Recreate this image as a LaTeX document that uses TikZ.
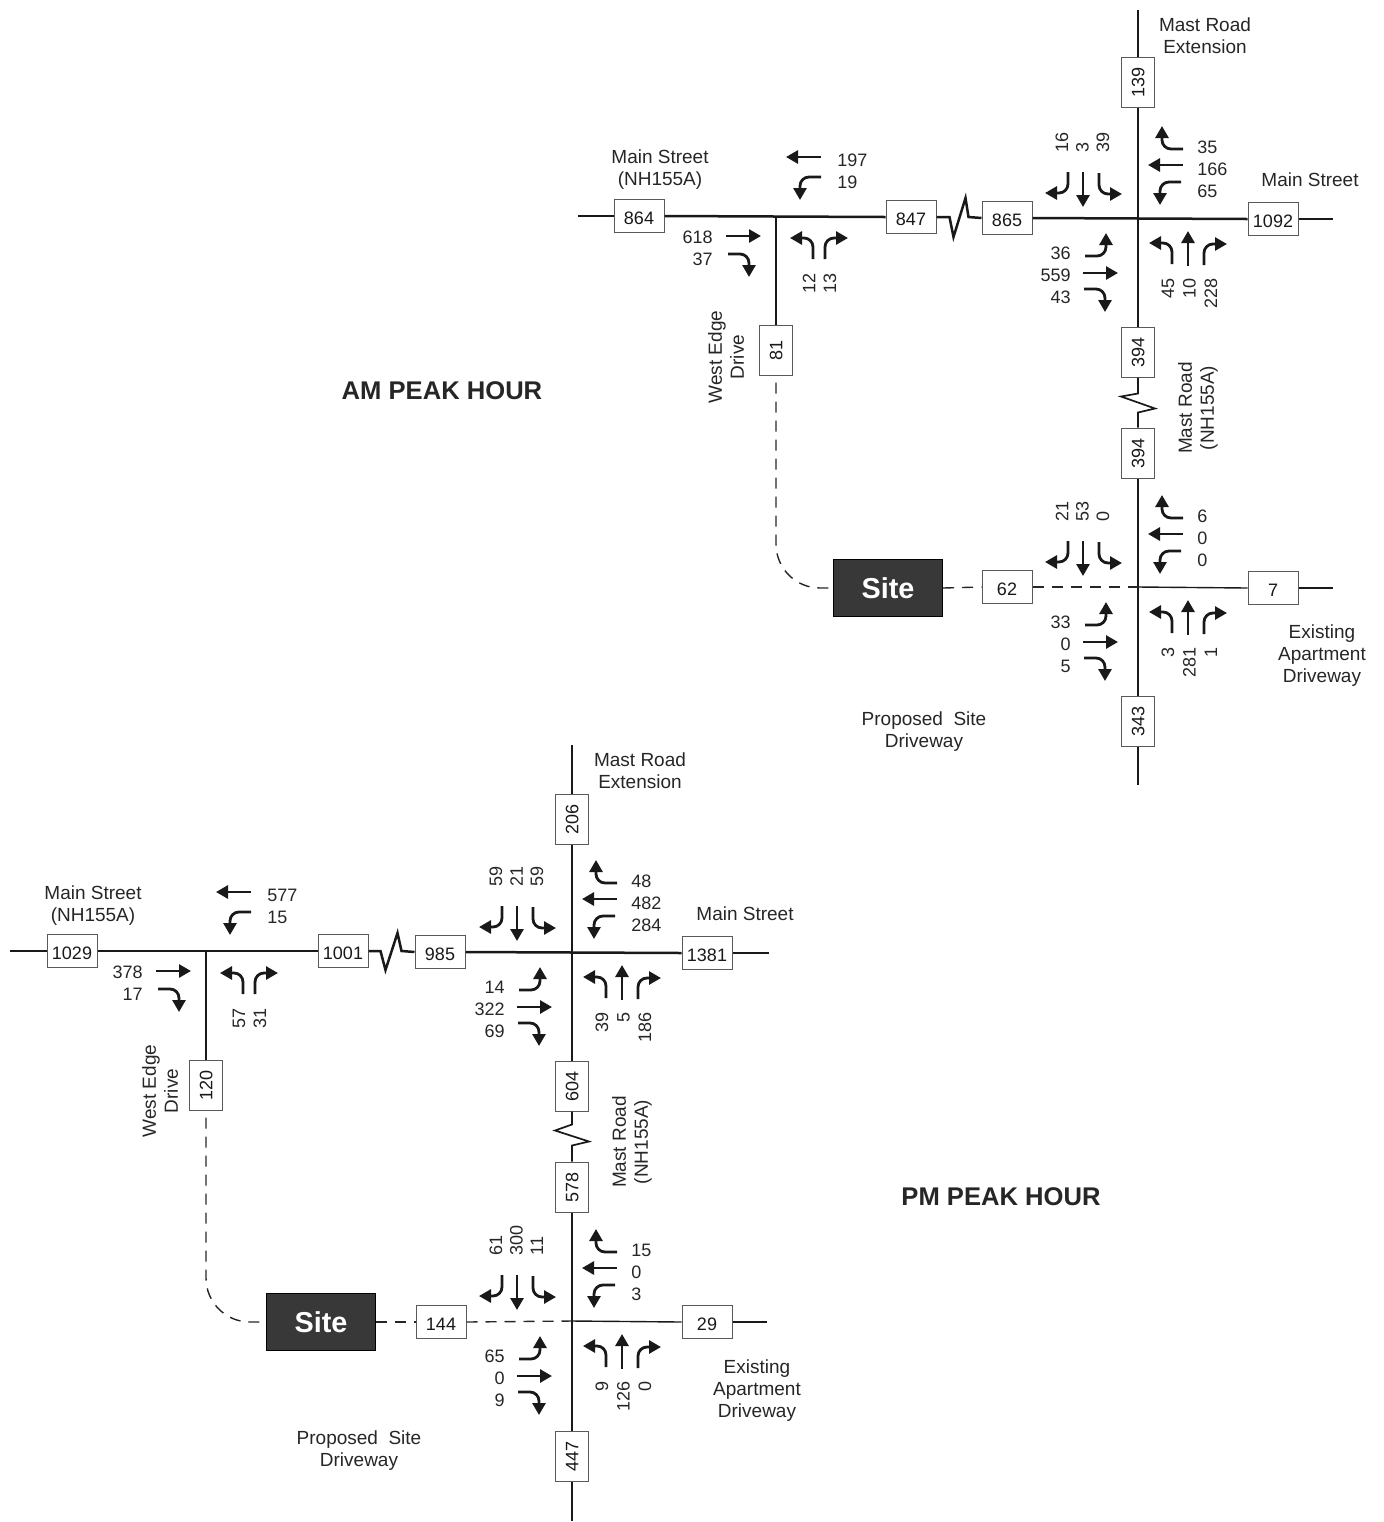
\documentclass[tikz,border=0pt]{standalone}
\usepackage{fontspec}
\setmainfont{Liberation Sans}
\usetikzlibrary{arrows.meta}

% turning counts round a four-leg junction: name, then the E, N, W, S approach
\newcommand{\crosscounts}[5]{%
\foreach \v [count=\k] in {#2} {\node[numtext,anchor=west] (#1e\k) at ([shift={(59,{22*\k-93})}]#1) {\v};}
\foreach \v [count=\k] in {#3} {\node[numtext,rotate=90,anchor=west] (#1n\k) at ([shift={({20.5*\k-96.5},-65)}]#1) {\v};}
\foreach \v [count=\k] in {#4} {\node[numtext,anchor=east] (#1w\k) at ([shift={(-67,{22*\k+13})}]#1) {\v};}
\foreach \v [count=\k] in {#5} {\node[numtext,rotate=90,anchor=east] (#1s\k) at ([shift={({21.5*\k+8.5},60)}]#1) {\v};}
}
% same for the T junction
\newcommand{\teecounts}[4]{%
\foreach \v [count=\k] in {#2} {\node[numtext,anchor=west] (#1e\k) at ([shift={(61,{22*\k-78})}]#1) {\v};}
\foreach \v [count=\k] in {#3} {\node[numtext,anchor=east] (#1w\k) at ([shift={(-63,{22*\k-1})}]#1) {\v};}
\foreach \v [count=\k] in {#4} {\node[numtext,rotate=90,anchor=east] (#1s\k) at ([shift={({21*\k+12},57)}]#1) {\v};}
}

\begin{document}
\begin{tikzpicture}[x=.5pt,y=-.5pt,
numtext/.style={font=\fontsize{9}{11}\selectfont,text=black!85,inner sep=0pt},
roadtext/.style={font=\fontsize{9.5}{11}\selectfont,text=black!85,align=center,inner sep=0pt},
peak/.style={font=\fontsize{12.8}{15}\selectfont\bfseries,text=black!85,inner sep=0pt},
vol/.style={draw=black!65,line width=.5pt,fill=white,minimum width=25pt,minimum height=16.5pt,inner sep=0pt,font=\fontsize{9}{11}\selectfont,text=black!90,text height=8.4pt,text depth=0pt},
volv/.style={vol,rotate=90,text height=6.4pt},
site/.style={draw=black,line width=.6pt,fill=black!78,text=white,minimum width=54.5pt,minimum height=28.5pt,inner sep=0pt,font=\fontsize{14.4}{16}\selectfont\bfseries},
major/.style={line width=1.25pt,black!90},
minor/.style={line width=.85pt,black!90},
thin road/.style={line width=.7pt,black!90},
plan/.style={line width=.7pt,black!85,dash pattern=on 5.5pt off 4pt},
arw/.style={line width=1.4pt,black!90,-{Triangle[length=6pt,width=6.5pt]}},
thru/.pic={\draw[arw] (0,0) -- (35,0);},
lturn/.pic={\draw[arw,rounded corners=4.5pt] (0,0) -| (21,-23);},
rturn/.pic={\draw[arw,rounded corners=4.5pt] (0,0) -| (21,23);},
fourway/.pic={\foreach \kind/\ang/\ox/\oy in {rturn/180/45/-69,thru/180/45/-53,lturn/180/43/-36,rturn/-90/-70/-46,thru/-90/-55/-46,lturn/-90/-39/-45,lturn/0/-53/38,thru/0/-55/55,rturn/0/-54/71,lturn/90/34/46,thru/90/50/48,rturn/90/66/47} {\pic[rotate=\ang] at (\ox,\oy) {\kind};}},
teeway/.pic={\foreach \kind/\ang/\ox/\oy in {thru/180/45/-59,lturn/180/45/-39,thru/0/-50/20,rturn/0/-48/38,lturn/90/37/43,rturn/90/49/43} {\pic[rotate=\ang] at (\ox,\oy) {\kind};}}]
\useasboundingbox (0,0) rectangle (1383,1522);

%% AM peak
\node[peak] (ampeak) at (442,391) {AM PEAK HOUR};
\coordinate (amtee) at (776,216);
\coordinate (amcross) at (1138,218);
\coordinate (amdrive) at (1138,587);
\coordinate (amnorth) at (1138,10);
\coordinate (amsouth) at (1138,785);
\coordinate (amwest) at (578,216);
\coordinate (ameast) at (1333,219);
\coordinate (amaptend) at (1333,588);
\node[vol] (am864) at (639,216) {864};
\node[vol] (am847) at (911,217) {847};
\node[vol] (am865) at (1007,218) {865};
\node[vol] (am1092) at (1273,219) {1092};
\node[volv] (am139) at (1138,82) {139};
\node[volv] (am81) at (776,350) {81};
\node[volv] (am394a) at (1138,352) {394};
\node[volv] (am394b) at (1138,453) {394};
\node[volv] (am343) at (1138,721) {343};
\node[vol] (am62) at (1007,587) {62};
\node[vol] (am7) at (1273,588) {7};
\node[site] (amsite) at (888,588) {Site};
\draw[major] (amwest) -- (am864.west);
\draw[major] (am864.east) -- (am847.west);
\draw[major] (am847.east) -- ++(13,0) -- ++(4,20) -- ++(12,-39) -- ++(3,19) -- (am865.west);
\draw[major] (am865.east) -- (am1092.west);
\draw[major] (am1092.east) -- (ameast);
\draw[minor] (amnorth) -- (am139.east);
\draw[minor] (am139.west) -- (am394a.east);
\draw[minor] (am394a.west) -- ++(0,16) -- ++(-17,3) -- ++(34,12) -- ++(-17,4) -- (am394b.east);
\draw[minor] (am394b.west) -- (am343.east);
\draw[minor] (am343.west) -- (amsouth);
\draw[minor] (amtee) -- (am81.east);
\draw[plan,rounded corners=22pt] (am81.west) ++(0,7) |- (amsite.west);
\draw[plan] (amsite.east) -- (am62.west);
\draw[plan] (am62.east) -- (amdrive);
\draw[thin road] (amdrive) -- (am7.west);
\draw[thin road] (am7.east) -- (amaptend);
\pic at (amcross) {fourway};
\pic at (amdrive) {fourway};
\pic at (amtee) {teeway};
\crosscounts{amcross}{35,166,65}{16,3,39}{36,559,43}{45,10,228}
\crosscounts{amdrive}{6,0,0}{21,53,0}{33,0,5}{3,281,1}
\teecounts{amtee}{197,19}{618,37}{12,13}
\node[roadtext] (amext) at (1205,36) {Mast Road\\Extension};
\node[roadtext] (ammain) at (1310,180) {Main Street};
\node[roadtext] (ammainw) at (660,170) {Main Street\\(NH155A)};
\node[roadtext,rotate=90] (amedge) at (726,357) {West Edge\\Drive};
\node[roadtext,rotate=90] (ammast) at (1198,408) {Mast Road\\(NH155A)};
\node[roadtext] (amprop) at (924,732) {Proposed~ Site\\Driveway};
\node[roadtext] (amapt) at (1322,656) {Existing\\Apartment\\Driveway};

%% PM peak
\node[peak] (pmpeak) at (1001,1197) {PM PEAK HOUR};
\coordinate (pmtee) at (206,951);
\coordinate (pmcross) at (572,952);
\coordinate (pmdrive) at (572,1321);
\coordinate (pmnorth) at (572,745);
\coordinate (pmsouth) at (572,1521);
\coordinate (pmwest) at (10,951);
\coordinate (pmeast) at (769,953);
\coordinate (pmaptend) at (767,1322);
\node[vol] (pm1029) at (72,951) {1029};
\node[vol] (pm1001) at (343,951) {1001};
\node[vol] (pm985) at (440,952) {985};
\node[vol] (pm1381) at (707,953) {1381};
\node[volv] (pm206) at (572,819) {206};
\node[volv] (pm120) at (206,1085) {120};
\node[volv] (pm604) at (572,1086) {604};
\node[volv] (pm578) at (572,1187) {578};
\node[volv] (pm447) at (572,1456) {447};
\node[vol] (pm144) at (441,1322) {144};
\node[vol] (pm29) at (707,1322) {29};
\node[site] (pmsite) at (321,1322) {Site};
\draw[major] (pmwest) -- (pm1029.west);
\draw[major] (pm1029.east) -- (pm1001.west);
\draw[major] (pm1001.east) -- ++(12,0) -- ++(5,19) -- ++(12,-37) -- ++(4,18) -- (pm985.west);
\draw[major] (pm985.east) -- (pm1381.west);
\draw[major] (pm1381.east) -- (pmeast);
\draw[minor] (pmnorth) -- (pm206.east);
\draw[minor] (pm206.west) -- (pm604.east);
\draw[minor] (pm604.west) -- ++(0,13) -- ++(-17,6) -- ++(34,11) -- ++(-17,4) -- (pm578.east);
\draw[minor] (pm578.west) -- (pm447.east);
\draw[minor] (pm447.west) -- (pmsouth);
\draw[minor] (pmtee) -- (pm120.east);
\draw[plan,rounded corners=22pt] (pm120.west) ++(0,7) |- (pmsite.west);
\draw[plan] (pmsite.east) -- (pm144.west);
\draw[plan] (pm144.east) -- (pmdrive);
\draw[thin road] (pmdrive) -- (pm29.west);
\draw[thin road] (pm29.east) -- (pmaptend);
\pic at (pmcross) {fourway};
\pic at (pmdrive) {fourway};
\pic at (pmtee) {teeway};
\crosscounts{pmcross}{48,482,284}{59,21,59}{14,322,69}{39,5,186}
\crosscounts{pmdrive}{15,0,3}{61,300,11}{65,0,9}{9,126,0}
\teecounts{pmtee}{577,15}{378,17}{57,31}
\node[roadtext] (pmext) at (640,771) {Mast Road\\Extension};
\node[roadtext] (pmmain) at (745,914) {Main Street};
\node[roadtext] (pmmainw) at (93,906) {Main Street\\(NH155A)};
\node[roadtext,rotate=90] (pmedge) at (160,1091) {West Edge\\Drive};
\node[roadtext,rotate=90] (pmmast) at (632,1142) {Mast Road\\(NH155A)};
\node[roadtext] (pmprop) at (359,1451) {Proposed~ Site\\Driveway};
\node[roadtext] (pmapt) at (757,1391) {Existing\\Apartment\\Driveway};
\end{tikzpicture}
\end{document}
